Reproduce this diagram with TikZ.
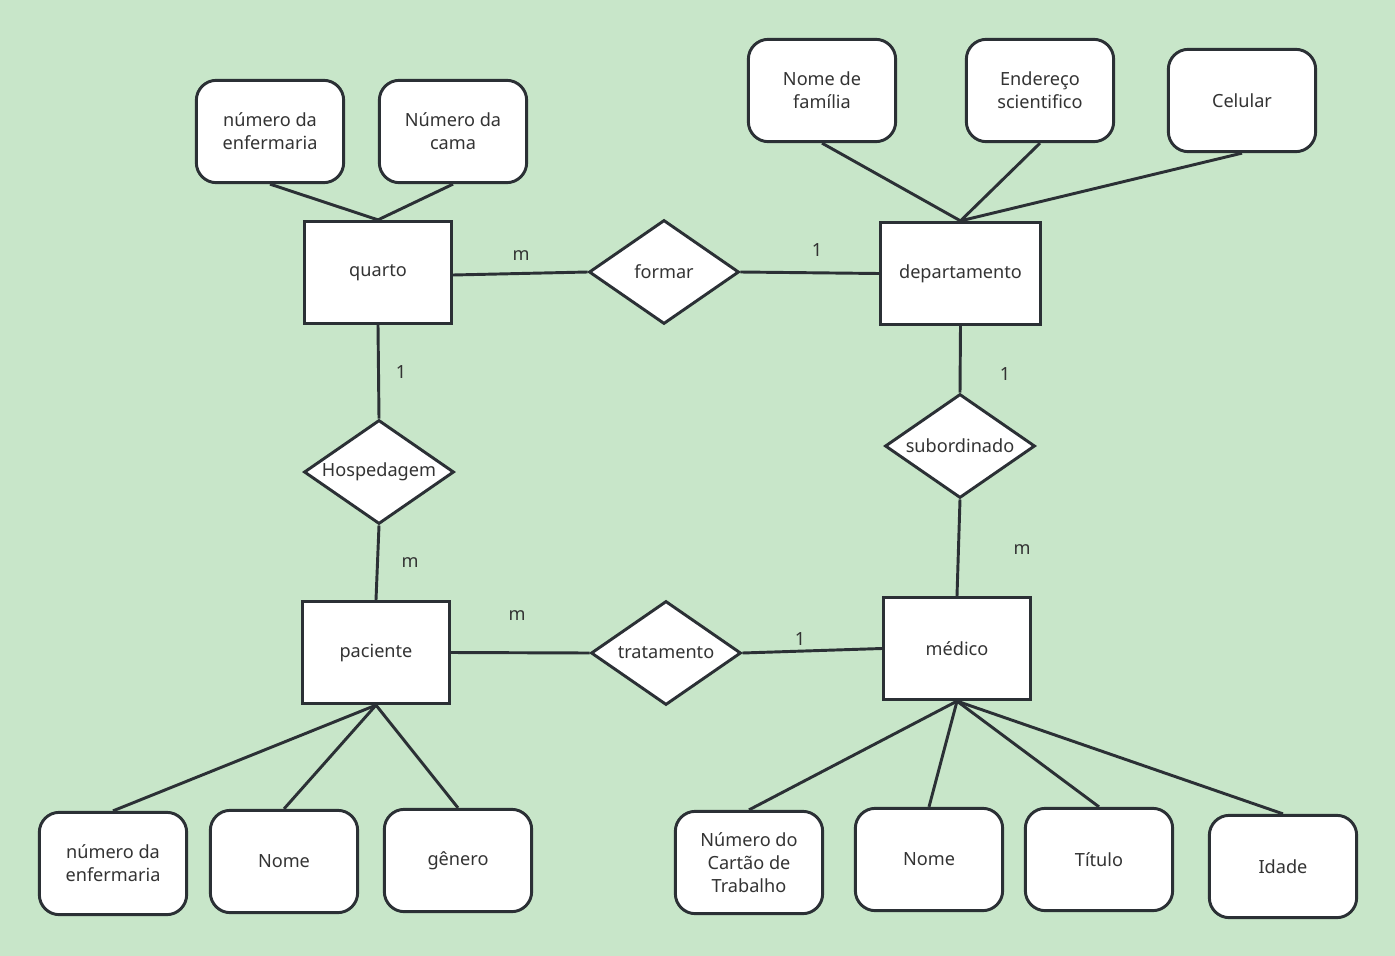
\documentclass[tikz,border=0pt]{standalone}
\usepackage{fontspec}
\setmainfont{Noto Sans}
\usetikzlibrary{shapes.geometric}
\definecolor{bg}{HTML}{C8E6C9}
\definecolor{ink}{HTML}{2B3035}
\definecolor{txt}{HTML}{333333}
\tikzset{
  x=0.75pt,y=-0.75pt,
  every node/.style={font=\fontsize{13.6}{17.3}\selectfont, text=txt},
  entity/.style={draw=ink, line width=2.2pt, fill=white, rectangle, minimum width=112.5pt-2pt, minimum height=78.75pt-2pt, inner sep=0pt},
  attr/.style={draw=ink, line width=2.2pt, fill=white, rectangle, rounded corners=15pt, minimum width=112.5pt-2pt, minimum height=78.75pt-2pt, inner sep=0pt, align=center},
  rel/.style={draw=ink, line width=2.2pt, fill=white, diamond, minimum width=112.5pt, minimum height=78pt, inner sep=0pt, aspect=1.44},
  conn/.style={draw=ink, line width=2.2pt},
  card/.style={font=\fontsize{13.6}{16}\selectfont}
}
\begin{document}
\begin{tikzpicture}
\fill[bg] (0,0) rectangle (1395,956);
\useasboundingbox (0,0) rectangle (1395,956);

% entities
\node[entity] (quarto) at (378,272.5) {quarto};
\node[entity, minimum width=122.25pt-2pt] (dep) at (960.5,273.5) {departamento};
\node[entity] (pac) at (376,652.5) {paciente};
\node[entity] (med) at (957,648.5) {médico};

% relationships
\node[rel] (formar) at (664,272) {formar};
\node[rel] (hosp) at (379,472) {Hospedagem};
\node[rel] (sub) at (960,446) {subordinado};
\node[rel] (trat) at (666,653) {tratamento};

% attributes
\node[attr] (a1) at (270,131.5) {número da\\enfermaria};
\node[attr] (a2) at (453,131.5) {Número da\\cama};
\node[attr] (d1) at (822,90.5) {Nome de\\família};
\node[attr] (d2) at (1040,90.5) {Endereço\\scientifico};
\node[attr] (d3) at (1242,100.5) {Celular};
\node[attr] (p1) at (113,863.5) {número da\\enfermaria};
\node[attr] (p2) at (284,861.5) {Nome};
\node[attr] (p3) at (458,860.5) {gênero};
\node[attr] (m1) at (749,862.5) {Número do\\Cartão de\\Trabalho};
\node[attr] (m2) at (929,859.5) {Nome};
\node[attr] (m3) at (1099,859.5) {Título};
\node[attr] (m4) at (1283,866.5) {Idade};

% connectors
\draw[conn] (a1.south) -- (quarto.north);
\draw[conn] (a2.south) -- (quarto.north);
\draw[conn] (quarto.east |- 0,275) -- (formar.west);
\draw[conn] (formar.east) -- (dep.west);
\draw[conn] (d1.south) -- (dep.north);
\draw[conn] (d2.south) -- (dep.north);
\draw[conn] (d3.south) -- (dep.north);
\draw[conn] (quarto.south) -- (hosp.north);
\draw[conn] (hosp.south) -- (pac.north);
\draw[conn] (dep.south) -- (sub.north);
\draw[conn] (sub.south) -- (med.north);
\draw[conn] (pac.east) -- (trat.west);
\draw[conn] (trat.east) -- (med.west);
\draw[conn] (pac.south) -- (p1.north);
\draw[conn] (pac.south) -- (p2.north);
\draw[conn] (pac.south) -- (p3.north);
\draw[conn] (med.south) -- (m1.north);
\draw[conn] (med.south) -- (m2.north);
\draw[conn] (med.south) -- (m3.north);
\draw[conn] (med.south) -- (m4.north);

% cardinalities
\node[card] (c1) at (521,256) {m};
\node[card] (c2) at (817,250) {1};
\node[card] (c3) at (401,372) {1};
\node[card] (c4) at (410,563) {m};
\node[card] (c5) at (1005,374) {1};
\node[card] (c6) at (1022,550) {m};
\node[card] (c7) at (517,616) {m};
\node[card] (c8) at (800,639) {1};
\end{tikzpicture}
\end{document}
